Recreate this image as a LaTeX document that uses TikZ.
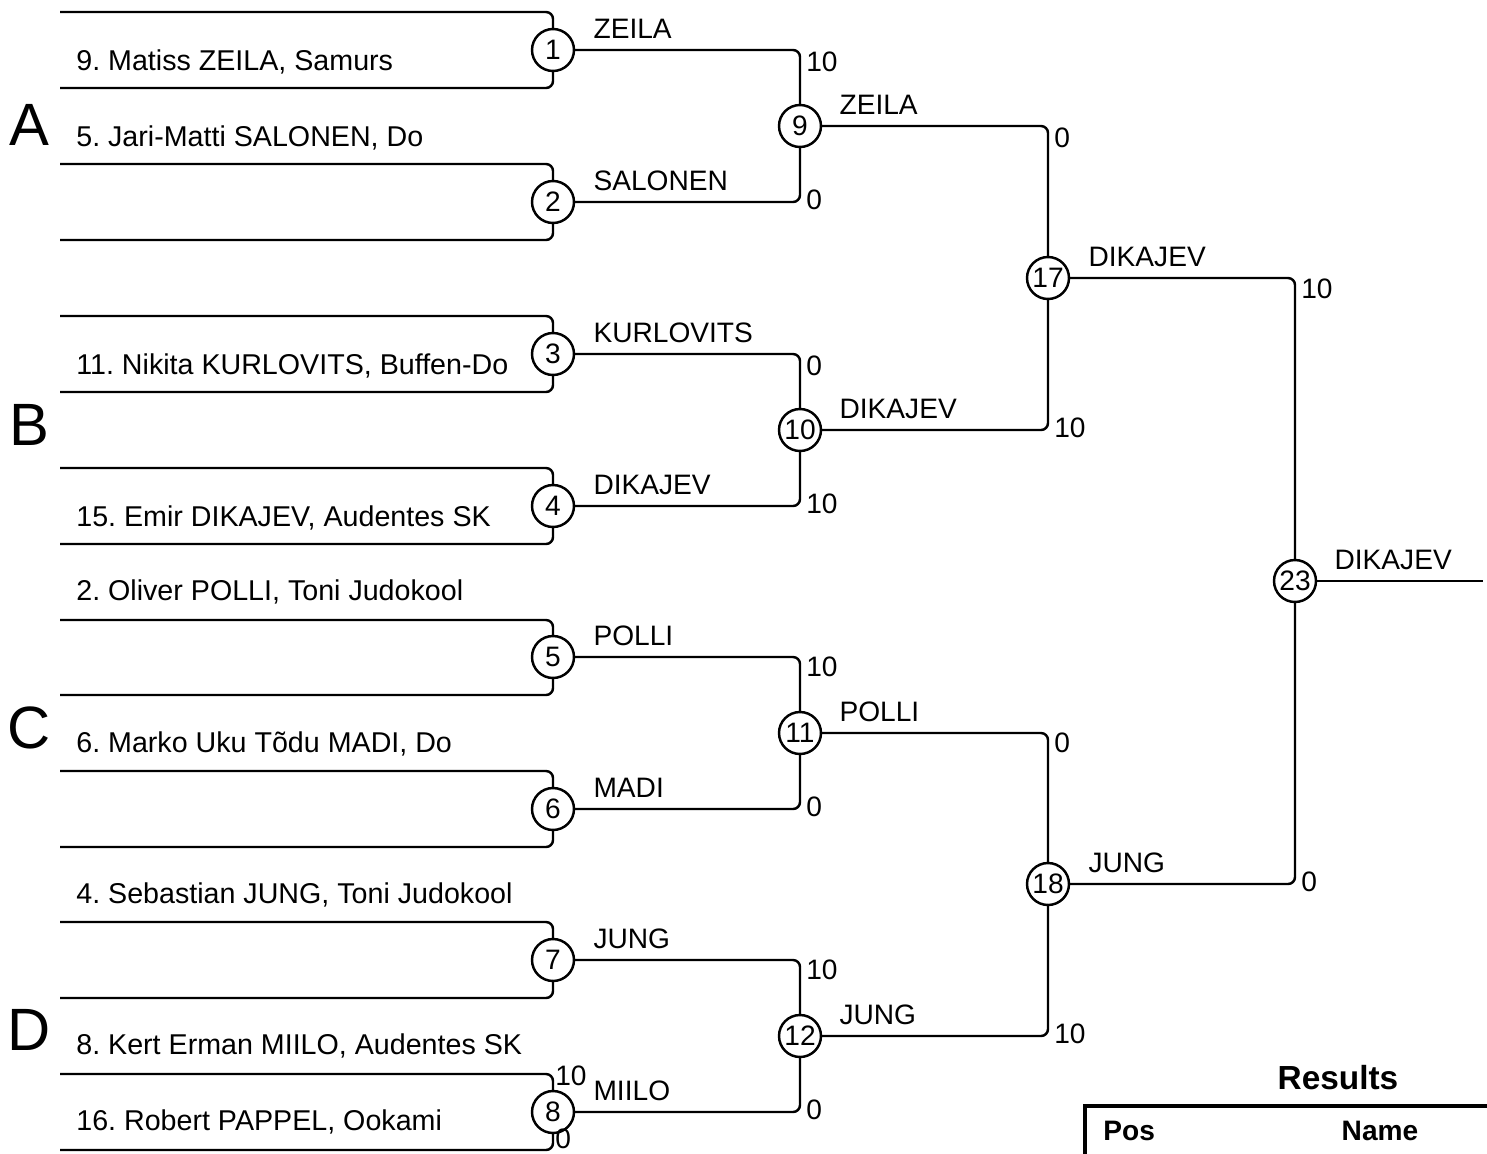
\documentclass[tikz,border=0pt]{standalone}
\usepackage{fontspec}
\setmainfont{Liberation Sans}
\frenchspacing
\usepackage{tikz}
\usetikzlibrary{positioning}
\tikzstyle{match} = [draw, circle, line width=1.4pt, minimum size=0.84cm,
    inner sep=0pt, font=\fontsize{16}{19}\selectfont]
\tikzstyle{edge} = [draw, line width=1.4pt, rounded corners=0.14cm]
\tikzstyle{player} = [anchor=west, inner sep=0pt, font=\fontsize{16.3}{19}\selectfont]
\tikzstyle{winner} = [inner sep=0pt, font=\fontsize{16}{19}\selectfont]
\tikzstyle{score} = [anchor=west, inner sep=0pt, font=\fontsize{16}{19}\selectfont]
\tikzstyle{pool} = [inner sep=0pt, font=\fontsize{34}{40}\selectfont]
\tikzstyle{head} = [inner sep=0pt, font=\bfseries\fontsize{16}{19}\selectfont]
\tikzstyle{frame} = [draw, line width=2.8pt]

\begin{document}
\begin{tikzpicture}[x=0.02cm, y=-0.02cm]
  \useasboundingbox (0,0) rectangle (1487,1153);

  % Place slots
  \coordinate (s1) at (60,12);    \coordinate (s2) at (60,88);
  \coordinate (s3) at (60,164);   \coordinate (s4) at (60,240);
  \coordinate (s5) at (60,316);   \coordinate (s6) at (60,392);
  \coordinate (s7) at (60,468);   \coordinate (s8) at (60,544);
  \coordinate (s9) at (60,620);   \coordinate (s10) at (60,695);
  \coordinate (s11) at (60,771);  \coordinate (s12) at (60,847);
  \coordinate (s13) at (60,922);  \coordinate (s14) at (60,998);
  \coordinate (s15) at (60,1074); \coordinate (s16) at (60,1150);

  % Place matches
  \node [match] (m1) at (553,50) {1};
  \node [match] (m2) at (553,202) {2};
  \node [match] (m3) at (553,354) {3};
  \node [match] (m4) at (553,506) {4};
  \node [match] (m5) at (553,657) {5};
  \node [match] (m6) at (553,809) {6};
  \node [match] (m7) at (553,960) {7};
  \node [match] (m8) at (553,1112) {8};

  \node [match] (m9) at (800,126) {9};
  \node [match] (m10) at (800,430) {10};
  \node [match] (m11) at (800,733) {11};
  \node [match] (m12) at (800,1036) {12};

  \node [match] (m17) at (1048,278) {17};
  \node [match] (m18) at (1048,884) {18};

  \node [match] (m23) at (1295,581) {23};
  \coordinate (out) at (1483,581);

  % Players
  \node [player] (p9) at (76,62) {9. Matiss ZEILA, Samurs};
  \node [player] (p5) at (76,138) {5. Jari-Matti SALONEN, Do};
  \node [player] (p11) at (76,366) {11. Nikita KURLOVITS, Buffen-Do};
  \node [player] (p15) at (76,518) {15. Emir DIKAJEV, Audentes SK};
  \node [player] (p2) at (76,592) {2. Oliver POLLI, Toni Judokool};
  \node [player] (p6) at (76,744) {6. Marko Uku Tõdu MADI, Do};
  \node [player] (p4) at (76,895) {4. Sebastian JUNG, Toni Judokool};
  \node [player] (p8) at (76,1046) {8. Kert Erman MIILO, Audentes SK};
  \node [player] (p16) at (76,1122) {16. Robert PAPPEL, Ookami};

  % Pools
  \node [pool] (poolA) at (29,125) {A};
  \node [pool] (poolB) at (29,425) {B};
  \node [pool] (poolC) at (29,728) {C};
  \node [pool] (poolD) at (29,1030) {D};

  % Round 1
  \path [edge] (s1) -| (m1.north);  \path [edge] (s2) -| (m1.south);
  \path [edge] (s3) -| (m2.north);  \path [edge] (s4) -| (m2.south);
  \path [edge] (s5) -| (m3.north);  \path [edge] (s6) -| (m3.south);
  \path [edge] (s7) -| (m4.north);  \path [edge] (s8) -| (m4.south);
  \path [edge] (s9) -| (m5.north);  \path [edge] (s10) -| (m5.south);
  \path [edge] (s11) -| (m6.north); \path [edge] (s12) -| (m6.south);
  \path [edge] (s13) -| (m7.north); \path [edge] (s14) -| (m7.south);
  \path [edge] (s15) -| (m8.north); \path [edge] (s16) -| (m8.south);

  \node [score] at (555,1076) {10};
  \node [score] at (555,1139) {0};

  % Round 2
  \path [edge] (m1.east) -| (m9.north);  \path [edge] (m2.east) -| (m9.south);
  \path [edge] (m3.east) -| (m10.north); \path [edge] (m4.east) -| (m10.south);
  \path [edge] (m5.east) -| (m11.north); \path [edge] (m6.east) -| (m11.south);
  \path [edge] (m7.east) -| (m12.north); \path [edge] (m8.east) -| (m12.south);

  \node [winner, above right=0.22cm and 0.36cm of m1.east] {ZEILA};
  \node [winner, above right=0.22cm and 0.36cm of m2.east] {SALONEN};
  \node [winner, above right=0.22cm and 0.36cm of m3.east] {KURLOVITS};
  \node [winner, above right=0.22cm and 0.36cm of m4.east] {DIKAJEV};
  \node [winner, above right=0.22cm and 0.36cm of m5.east] {POLLI};
  \node [winner, above right=0.22cm and 0.36cm of m6.east] {MADI};
  \node [winner, above right=0.22cm and 0.36cm of m7.east] {JUNG};
  \node [winner, above right=0.22cm and 0.36cm of m8.east] {MIILO};

  \node [score] at (806,62) {10};
  \node [score] at (806,200) {0};
  \node [score] at (806,366) {0};
  \node [score] at (806,504) {10};
  \node [score] at (806,667) {10};
  \node [score] at (806,807) {0};
  \node [score] at (806,970) {10};
  \node [score] at (806,1110) {0};

  % Round 3
  \path [edge] (m9.east) -| (m17.north);  \path [edge] (m10.east) -| (m17.south);
  \path [edge] (m11.east) -| (m18.north); \path [edge] (m12.east) -| (m18.south);

  \node [winner, above right=0.22cm and 0.34cm of m9.east] {ZEILA};
  \node [winner, above right=0.22cm and 0.34cm of m10.east] {DIKAJEV};
  \node [winner, above right=0.22cm and 0.34cm of m11.east] {POLLI};
  \node [winner, above right=0.22cm and 0.34cm of m12.east] {JUNG};

  \node [score] at (1054,138) {0};
  \node [score] at (1054,428) {10};
  \node [score] at (1054,743) {0};
  \node [score] at (1054,1034) {10};

  % Final
  \path [edge] (m17.east) -| (m23.north); \path [edge] (m18.east) -| (m23.south);
  \path [edge] (m23.east) -- (out);

  \node [winner, above right=0.22cm and 0.36cm of m17.east] {DIKAJEV};
  \node [winner, above right=0.22cm and 0.36cm of m18.east] {JUNG};
  \node [winner, above right=0.22cm and 0.34cm of m23.east] {DIKAJEV};

  \node [score] at (1301,289) {10};
  \node [score] at (1301,882) {0};

  % Results
  \node [head, font=\bfseries\fontsize{19}{22}\selectfont] (results) at (1338,1078) {Results};
  \coordinate (tl) at (1085,1106);
  \coordinate (bl) at (1085,1160);
  \coordinate (tr) at (1490,1106);
  \path [frame] (bl) -- (tl) -- (tr);
  \node [head, anchor=west] (pos) at (1103,1131) {Pos};
  \node [head] (name) at (1380,1131) {Name};

\end{tikzpicture}
\end{document}
